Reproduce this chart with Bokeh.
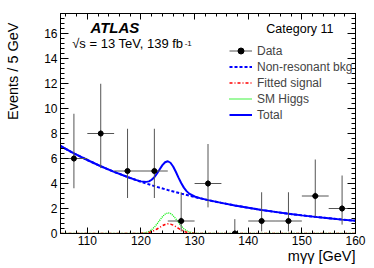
import math
from bokeh.plotting import figure
from bokeh.models import (Range1d, LinearAxis, Label, Legend, LegendItem, Title,
                          SingleIntervalTicker, CustomJSTickFormatter)
from bokeh.embed import file_html
from bokeh.resources import INLINE

# ---------------- data ----------------
bin_centers = [107.5, 112.5, 117.5, 122.5, 127.5, 132.5, 137.5, 142.5, 147.5, 152.5, 157.5]
bin_half = 2.5
counts = [6, 8, 5, 5, 1, 4, 0, 1, 1, 3, 2]
err_lo = [3.62, 5.23, 2.84, 2.84, 0.17, 2.09, 0.0, 0.17, 0.17, 1.37, 0.71]
err_hi = [9.58, 11.98, 8.38, 8.38, 3.30, 7.16, 1.15, 3.30, 3.30, 5.92, 4.64]

bkg_mass = [105, 107.5, 110, 112.5, 115, 117.5, 120, 122.5, 125, 127.5, 130, 132.5,
            135, 137.5, 140, 142.5, 145, 147.5, 150, 152.5, 155, 157.5, 160]
bkg_vals = [7.00, 6.41, 5.88, 5.38, 4.93, 4.52, 4.14, 3.79, 3.48, 3.19, 2.92, 2.67,
            2.45, 2.24, 2.06, 1.88, 1.73, 1.58, 1.45, 1.33, 1.22, 1.11, 1.02]

tot_mass = [105, 107.5, 110, 112.5, 115, 117.5, 119, 120, 121, 121.5, 122, 122.5, 123,
            123.5, 124, 124.5, 125, 125.5, 126, 126.5, 127, 127.5, 128, 128.5, 129,
            130, 131, 132.5, 135, 137.5, 140, 142.5, 145, 147.5, 150, 152.5, 155, 157.5, 160]
tot_vals = [7.00, 6.41, 5.88, 5.38, 4.93, 4.52, 4.29, 4.17, 4.13, 4.17, 4.30, 4.50, 4.80,
            5.14, 5.47, 5.70, 5.78, 5.66, 5.36, 4.94, 4.47, 4.04, 3.67, 3.39, 3.19,
            2.96, 2.83, 2.67, 2.45, 2.24, 2.06, 1.88, 1.73, 1.58, 1.45, 1.33, 1.22, 1.11, 1.02]

sig_mass = [105, 119, 120, 121, 121.5, 122, 122.5, 123, 123.5, 124, 124.5, 125, 125.5,
            126, 126.5, 127, 127.5, 128, 128.5, 129, 130, 131, 160]
sm_higgs = [0, 0.00, 0.02, 0.09, 0.17, 0.31, 0.51, 0.77, 1.06, 1.34, 1.55, 1.65, 1.61,
            1.43, 1.17, 0.88, 0.61, 0.38, 0.22, 0.12, 0.03, 0.00, 0]
fitted_sig = [0, 0.00, 0.01, 0.04, 0.08, 0.15, 0.24, 0.36, 0.49, 0.62, 0.72, 0.77, 0.75,
              0.67, 0.55, 0.41, 0.28, 0.18, 0.10, 0.06, 0.01, 0.00, 0]

x_lo, x_hi = 105, 160
y_lo, y_hi = 0, 17.6
x_title = "m\u03b3\u03b3 [GeV]"
y_title = "Events / 5 GeV"

FONT = "Liberation Sans"

p = figure(width=374, height=268, x_range=Range1d(x_lo, x_hi), y_range=Range1d(y_lo, y_hi),
           output_backend="svg", toolbar_location=None,
           min_border_left=60, min_border_right=19, min_border_top=13, min_border_bottom=35)
p.background_fill_color = "white"
p.border_fill_color = "white"
p.outline_line_color = "black"
p.outline_line_width = 1
p.xgrid.visible = False
p.ygrid.visible = False


def style_axis(ax, tick_in, minor_in, labels=True, standoff=3):
    ax.axis_line_color = "black"
    ax.major_tick_line_color = "black"
    ax.minor_tick_line_color = "black"
    ax.major_tick_in = tick_in
    ax.major_tick_out = 0
    ax.minor_tick_in = minor_in
    ax.minor_tick_out = 0
    if labels:
        ax.major_label_text_font = FONT
        ax.major_label_text_font_size = "12px"
        ax.major_label_text_color = "black"
        ax.major_label_standoff = standoff
    else:
        ax.formatter = CustomJSTickFormatter(code="return ''")
        ax.major_label_text_font_size = "1px"
        ax.major_label_standoff = 0


p.xaxis.ticker = SingleIntervalTicker(interval=10, num_minor_ticks=5)
p.yaxis.ticker = SingleIntervalTicker(interval=2, num_minor_ticks=5)
xa = p.xaxis[0]
ya = p.yaxis[0]
style_axis(xa, 6, 3, standoff=2)
style_axis(ya, 8, 4)

# spacer between the y tick labels and the y title
ya.axis_label = " "
ya.axis_label_text_font_size = "1px"
ya.axis_label_standoff = 17

has_standoff = "standoff" in Title.properties()

def side_title(text, side, valign, offset):
    t = Title(text=text, align="right", vertical_align=valign, offset=offset,
              text_font=FONT, text_font_size="14.5px", text_font_style="normal",
              text_color="black")
    if has_standoff:
        t.standoff = 0
    p.add_layout(t, side)

side_title(y_title, "left", "bottom", 9)
side_title(x_title, "below", "top", 0)

top = LinearAxis(ticker=SingleIntervalTicker(interval=10, num_minor_ticks=5))
style_axis(top, 6, 3, labels=False)
p.add_layout(top, "above")
right = LinearAxis(ticker=SingleIntervalTicker(interval=2, num_minor_ticks=5))
style_axis(right, 8, 4, labels=False)
p.add_layout(right, "right")

# ---------------- curves ----------------
green = p.line(sig_mass, sm_higgs, line_color="#00ee00", line_width=1.3, line_dash="1 1")
red = p.line(sig_mass, fitted_sig, line_color="#ff0000", line_width=1.6, line_dash="3 2 1 2")
bkg = p.line(bkg_mass, bkg_vals, line_color="#0000ff", line_width=2, line_dash="3 2")
tot = p.line(tot_mass, tot_vals, line_color="#0000ff", line_width=2)

# ---------------- data points ----------------
ERR = "#555555"
xl = [c - bin_half for c in bin_centers]
xr = [c + bin_half for c in bin_centers]
yerr = p.segment(x0=bin_centers, x1=bin_centers, y0=err_lo, y1=err_hi, line_color=ERR, line_width=1)
xerr = p.segment(x0=xl, x1=xr, y0=counts, y1=counts, line_color=ERR, line_width=1)
cross = p.scatter(bin_centers, counts, marker="cross", size=7, line_color=ERR, line_width=1)
pts = p.scatter(bin_centers, counts, marker="circle", size=5, fill_color="black", line_color="black")

# ---------------- legend ----------------
legend = Legend(items=[
    LegendItem(label="Data", renderers=[xerr, cross, pts]),
    LegendItem(label="Non-resonant bkg", renderers=[bkg]),
    LegendItem(label="Fitted signal", renderers=[red]),
    LegendItem(label="SM Higgs", renderers=[green]),
    LegendItem(label="Total", renderers=[tot]),
], location=(169, 111))
legend.glyph_width = 23
legend.glyph_height = 15
legend.label_height = 15
legend.spacing = 1
legend.padding = 0
legend.margin = 0
legend.label_standoff = 5
legend.label_text_font = FONT
legend.label_text_font_size = "12px"
legend.background_fill_alpha = 0
legend.border_line_alpha = 0
p.add_layout(legend)

# ---------------- texts inside the frame ----------------
def lab(**kw):
    kw.setdefault("text_font", FONT)
    kw.setdefault("text_color", "black")
    p.add_layout(Label(**kw))

lab(x=110.59, y=15.84, text="ATLAS", text_font_style="bold italic", text_font_size="15px")
lab(x=127.9, y=14.64, text="\u221As = 13 TeV, 139 fb", text_align="right", text_font_size="13px")
lab(x=128.15, y=15.04, text="-1", text_align="left", text_font_size="8px")
lab(x=155.9, y=15.84, text="Category 11", text_align="right", text_font_size="12.5px")

open("out.html", "w").write(file_html(p, INLINE))
